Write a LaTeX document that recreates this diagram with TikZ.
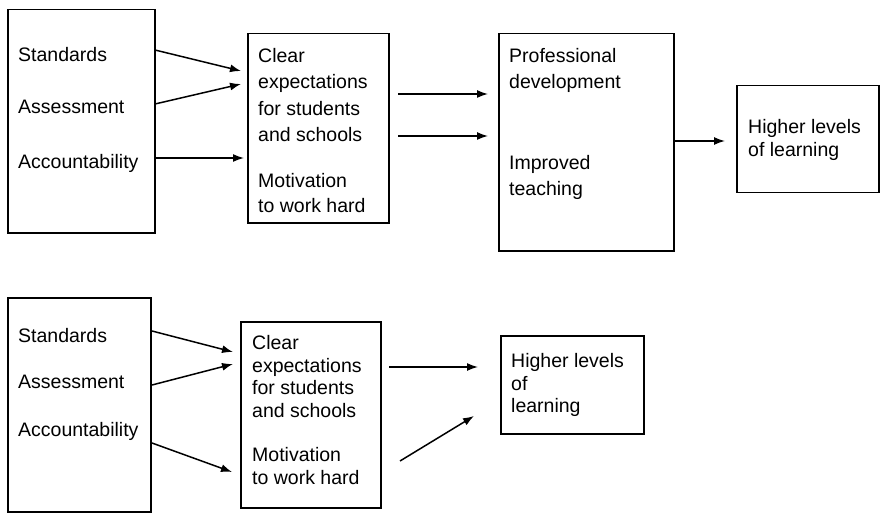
\documentclass[tikz,border=0pt]{standalone}
\usepackage{fontspec}
\setmainfont{Liberation Sans}
\usetikzlibrary{arrows.meta}

\tikzset{
  box/.style={draw, line width=1.5pt, anchor=north west, inner sep=0pt},
  txt/.style={anchor=north west, inner sep=0pt, align=left, font=\fontsize{19.5}{26.5}\selectfont},
  tight/.style={font=\fontsize{19.5}{22.8}\selectfont},
  arr/.style={line width=1.5pt, -{Latex[length=11pt,width=8pt]}}
}

\begin{document}
\begin{tikzpicture}[x=1pt,y=-1pt]
\useasboundingbox (0,0) rectangle (880,513);
% upper chain
\node[box, minimum width=147pt, minimum height=223pt] (lft) at (7,9) {};
\node[box, minimum width=141pt, minimum height=189pt] (mid) at (247,33) {};
\node[box, minimum width=175pt, minimum height=217pt] (prf) at (498,33) {};
\node[box, minimum width=142pt, minimum height=107pt] (out) at (736,85) {};
\node[txt] (std) at (18,47) {Standards};
\node[txt] (asm) at (18,100) {Assessment};
\node[txt] (acc) at (18,154) {Accountability};
\node[txt] (clr) at (258,48) {Clear\\expectations\\for students\\and schools};
\node[txt, font=\fontsize{19.5}{25}\selectfont] (mot) at (258,173) {Motivation\\to work hard};
\node[txt] (pro) at (509,48) {Professional\\development};
\node[txt] (imp) at (509,155) {Improved\\teaching};
\node[txt, tight] (hgh) at (748,119) {Higher levels\\of learning};
\coordinate (s1) at (155,50);  \coordinate (t1) at (241,71);
\coordinate (s2) at (155,104); \coordinate (t2) at (241,84);
\coordinate (s3) at (155,158); \coordinate (t3) at (244,158);
\coordinate (s4) at (398,94);  \coordinate (t4) at (488,94);
\coordinate (s5) at (398,136); \coordinate (t5) at (488,136);
\coordinate (t6) at (725,141);
\draw[arr] (s1) -- (t1);
\draw[arr] (s2) -- (t2);
\draw[arr] (s3) -- (t3);
\draw[arr] (s4) -- (t4);
\draw[arr] (s5) -- (t5);
\draw[arr] (prf.east |- t6) -- (t6);
% lower chain
\node[box, minimum width=143pt, minimum height=214pt] (lft2) at (7,297) {};
\node[box, minimum width=140pt, minimum height=186pt] (mid2) at (240,321) {};
\node[box, minimum width=143pt, minimum height=98pt] (out2) at (500,335) {};
\node[txt] (std2) at (18,328) {Standards};
\node[txt] (asm2) at (18,375) {Assessment};
\node[txt] (acc2) at (18,422) {Accountability};
\node[txt, tight] (clr2) at (252,335) {Clear\\expectations\\for students\\and schools};
\node[txt, tight] (mot2) at (252,447) {Motivation\\to work hard};
\node[txt, tight] (hgh2) at (511,353) {Higher levels\\of\\learning};
\coordinate (u1) at (152,331); \coordinate (v1) at (233,352);
\coordinate (u2) at (152,385); \coordinate (v2) at (233,364);
\coordinate (u3) at (152,443); \coordinate (v3) at (232,472);
\coordinate (u4) at (389,367); \coordinate (v4) at (478,367);
\coordinate (u5) at (400,461); \coordinate (v5) at (474,416);
\draw[arr] (u1) -- (v1);
\draw[arr] (u2) -- (v2);
\draw[arr] (u3) -- (v3);
\draw[arr] (u4) -- (v4);
\draw[arr] (u5) -- (v5);
\end{tikzpicture}
\end{document}
